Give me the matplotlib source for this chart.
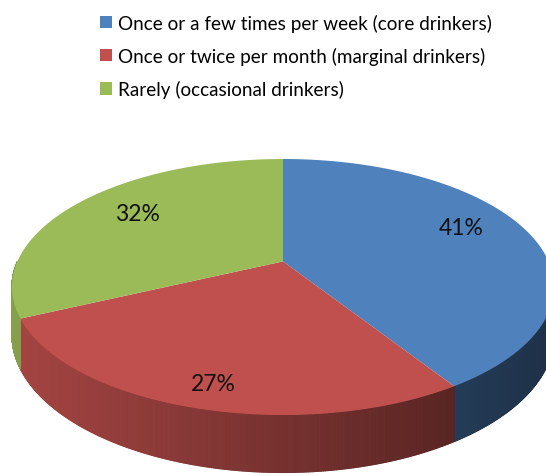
import numpy as np
import matplotlib
matplotlib.use("Agg")
import matplotlib.pyplot as plt
from matplotlib.patches import Polygon, Patch
from matplotlib.collections import PolyCollection

labels = [
    "Once or a few times per week (core drinkers)",
    "Once or twice per month (marginal drinkers)",
    "Rarely (occasional drinkers)",
]
shares = [41, 27, 32]
pct_text = ["41%", "27%", "32%"]
colors = ["#4F81BD", "#C0504D", "#9BBB59"]

W, H = 546, 477
fig = plt.figure(figsize=(W / 100, H / 100), dpi=100)
ax = fig.add_axes([0, 0, 1, 1])
ax.set_xlim(0, W)
ax.set_ylim(H, 0)
ax.axis("off")

# tilted pie geometry in pixels; beta = perspective pull of the far side
cx, cy, rx, ry = 283, 288, 271, 128
side = 46
beta = 0.2
gamma = 1 / np.sqrt(1 - beta ** 2)


def edge(t):
    # point of the rim at angle t (clockwise from the back), seen in perspective
    c, s = np.cos(t), np.sin(t)
    den = 1 + beta * c
    x = s / (gamma * den)
    y = (c + beta) / den
    return cx + rx * x, cy - ry * y, side / den


def shade(hexcol, x):
    f = 0.86 - 0.48 * (x - 12) / 534
    rgb = np.array(matplotlib.colors.to_rgb(hexcol))
    return tuple(np.clip(rgb * f, 0, 1))


fracs = np.array(shares) / sum(shares)
bounds = np.concatenate([[0], np.cumsum(fracs)]) * 2 * np.pi

# side walls (front half only)
for i, col in enumerate(colors):
    a0 = max(bounds[i], np.pi / 2)
    a1 = min(bounds[i + 1], 3 * np.pi / 2)
    if a1 <= a0:
        continue
    t = np.linspace(a0, a1, 300)
    xs, ys, ds = edge(t)
    polys, fcs = [], []
    for j in range(len(t) - 1):
        polys.append([(xs[j], ys[j]), (xs[j + 1], ys[j + 1]),
                      (xs[j + 1], ys[j + 1] + ds[j + 1]),
                      (xs[j], ys[j] + ds[j])])
        fcs.append(shade(col, (xs[j] + xs[j + 1]) / 2))
    ax.add_collection(PolyCollection(polys, facecolors=fcs, edgecolors=fcs,
                                     linewidths=0.8))

# top face
x0, y0 = cx, cy - ry * beta
for i, col in enumerate(colors):
    t = np.linspace(bounds[i], bounds[i + 1], 200)
    xs, ys, _ = edge(t)
    pts = np.vstack([[x0, y0], np.column_stack([xs, ys])])
    ax.add_patch(Polygon(pts, closed=True, facecolor=col, edgecolor="none"))

font = "Lato"
label_pos = [(461, 229), (213, 385), (137, 215)]
for (x, y), s in zip(label_pos, pct_text):
    ax.text(x, y, s, ha="center", va="center", fontsize=16.5,
            family=font, color="#111111")

handles = [Patch(facecolor=c, edgecolor="none") for c in colors]
fig.legend(handles, labels, loc="upper left",
           bbox_to_anchor=(92 / W, 1 - 7 / H), frameon=False,
           prop={"family": font, "size": 13.6},
           handlelength=0.65, handleheight=0.65, handletextpad=0.35,
           labelspacing=0.8, borderaxespad=0)

fig.savefig("out.png", dpi=100)
